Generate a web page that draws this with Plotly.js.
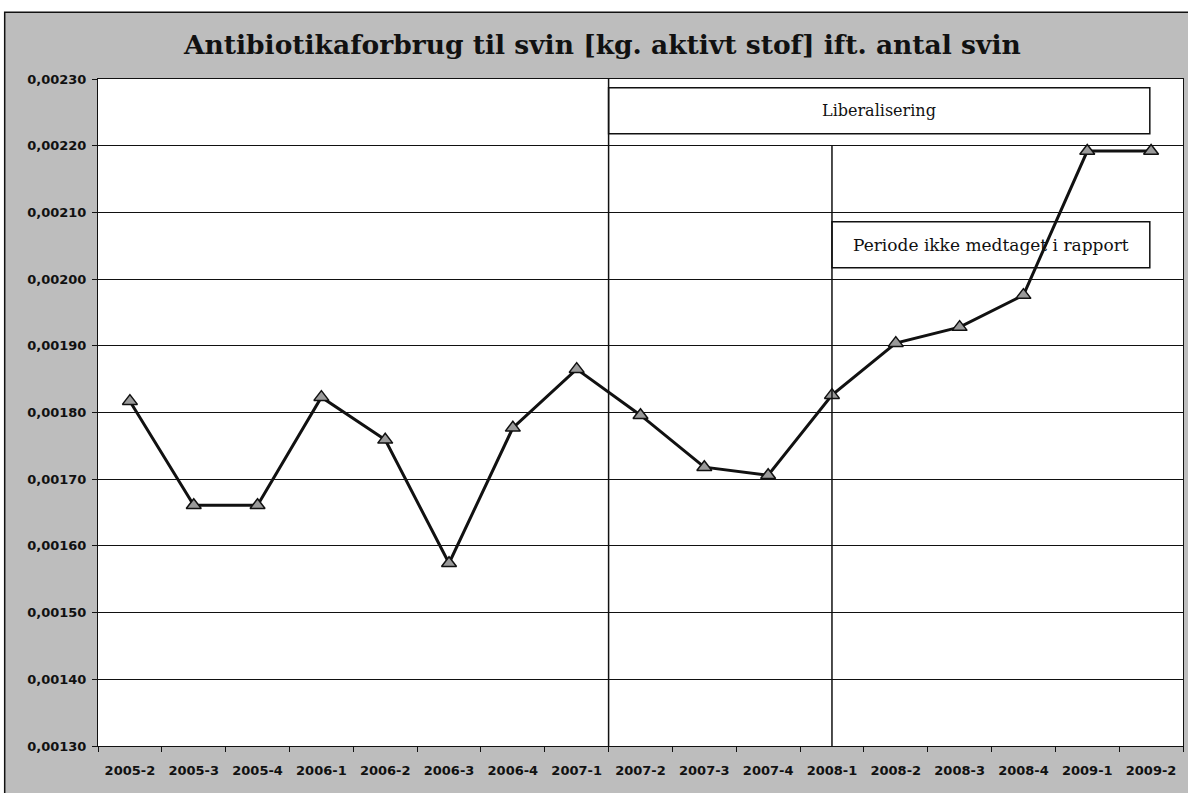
<!DOCTYPE html>
<html>
<head>
<meta charset="utf-8">
<script src="https://cdn.plot.ly/plotly-3.0.1.min.js"></script>
<style>html,body{margin:0;padding:0;background:#fff;}#chart{width:1188px;height:793px;}</style>
</head>
<body>
<div id="chart"></div>
<script>
const categories = ["2005-2","2005-3","2005-4","2006-1","2006-2","2006-3","2006-4","2007-1","2007-2","2007-3","2007-4","2008-1","2008-2","2008-3","2008-4","2009-1","2009-2"];
const values = [0.001817,0.001661,0.001661,0.001823,0.001759,0.001574,0.001777,0.001865,0.001796,0.001718,0.001706,0.001826,0.001904,0.001928,0.001976,0.002192,0.002192];
const yTicks = [0.0013,0.0014,0.0015,0.0016,0.0017,0.0018,0.0019,0.0020,0.0021,0.0022,0.0023];
const boxLabels = ["Liberalisering","Periode ikke medtaget i rapport"];

const trace = {
  x: categories, y: values, type: 'scatter', mode: 'lines+markers',
  line: {color: '#111', width: 3},
  marker: {symbol: 'triangle-up', size: 13, color: '#9a9a9a', line: {color: '#111', width: 1.5}},
  hoverinfo: 'none', showlegend: false
};

const layout = {
  width: 1188, height: 793,
  paper_bgcolor: '#ffffff', plot_bgcolor: '#ffffff',
  separators: ', ',
  margin: {l: 98, r: 5, t: 79, b: 47},
  title: {text: 'Antibiotikaforbrug til svin [kg. aktivt stof] ift. antal svin',
          x: 0.507, xanchor: 'center', y: 0.943, yanchor: 'middle',
          font: {family: 'DejaVu Serif', size: 26.5, color: '#111', weight: 'bold'}},
  xaxis: {type: 'category', range: [-0.5, 16.5], tickson: 'boundaries', ticks: 'outside', ticklen: 5,
          ticklabelstandoff: 12,
          tickcolor: '#111', showgrid: false, showline: true, linecolor: '#111', linewidth: 1, mirror: true,
          tickfont: {family: 'DejaVu Sans', size: 13, color: '#111', weight: 'bold'}, fixedrange: true},
  yaxis: {range: [0.0013, 0.0023], tickvals: yTicks, tickformat: '.5f', ticks: 'outside', ticklen: 5,
          ticklabelstandoff: 3,
          tickcolor: '#111', showgrid: true, gridcolor: '#111', gridwidth: 1, zeroline: false,
          showline: true, linecolor: '#111', linewidth: 1, mirror: true,
          tickfont: {family: 'DejaVu Sans', size: 13, color: '#111', weight: 'bold'}, fixedrange: true},
  shapes: [
    {type: 'rect', xref: 'paper', yref: 'paper', x0: -0.086, x1: 1.01, y0: -0.08, y1: 1.1,
     fillcolor: '#bdbdbd', line: {color: '#111', width: 1.5}, layer: 'below'},
    {type: 'rect', xref: 'paper', yref: 'paper', x0: 0, x1: 1, y0: 0, y1: 1,
     fillcolor: '#ffffff', line: {width: 0}, layer: 'below'},
    {type: 'line', xref: 'x', yref: 'y', x0: 7.5, x1: 7.5, y0: 0.0013, y1: 0.0023, line: {color: '#111', width: 1.5}},
    {type: 'line', xref: 'x', yref: 'y', x0: 11, x1: 11, y0: 0.0013, y1: 0.0022, line: {color: '#111', width: 1.5}},
    {type: 'rect', xref: 'x', yref: 'y', x0: 7.5, x1: 15.98, y0: 0.002218, y1: 0.002287,
     fillcolor: '#ffffff', line: {color: '#111', width: 1.5}, layer: 'below'},
    {type: 'rect', xref: 'x', yref: 'y', x0: 11, x1: 15.98, y0: 0.002017, y1: 0.002086,
     fillcolor: '#ffffff', line: {color: '#111', width: 1.5}, layer: 'below'}
  ],
  annotations: [
    {xref: 'x', yref: 'y', x: 11.74, y: 0.0022525, text: boxLabels[0], showarrow: false,
     font: {family: 'DejaVu Serif', size: 16, color: '#111'}},
    {xref: 'x', yref: 'y', x: 13.49, y: 0.0020515, text: boxLabels[1], showarrow: false,
     font: {family: 'DejaVu Serif', size: 17, color: '#111'}}
  ]
};

Plotly.newPlot('chart', [trace], layout, {displayModeBar: false, staticPlot: true});
</script>
</body>
</html>
